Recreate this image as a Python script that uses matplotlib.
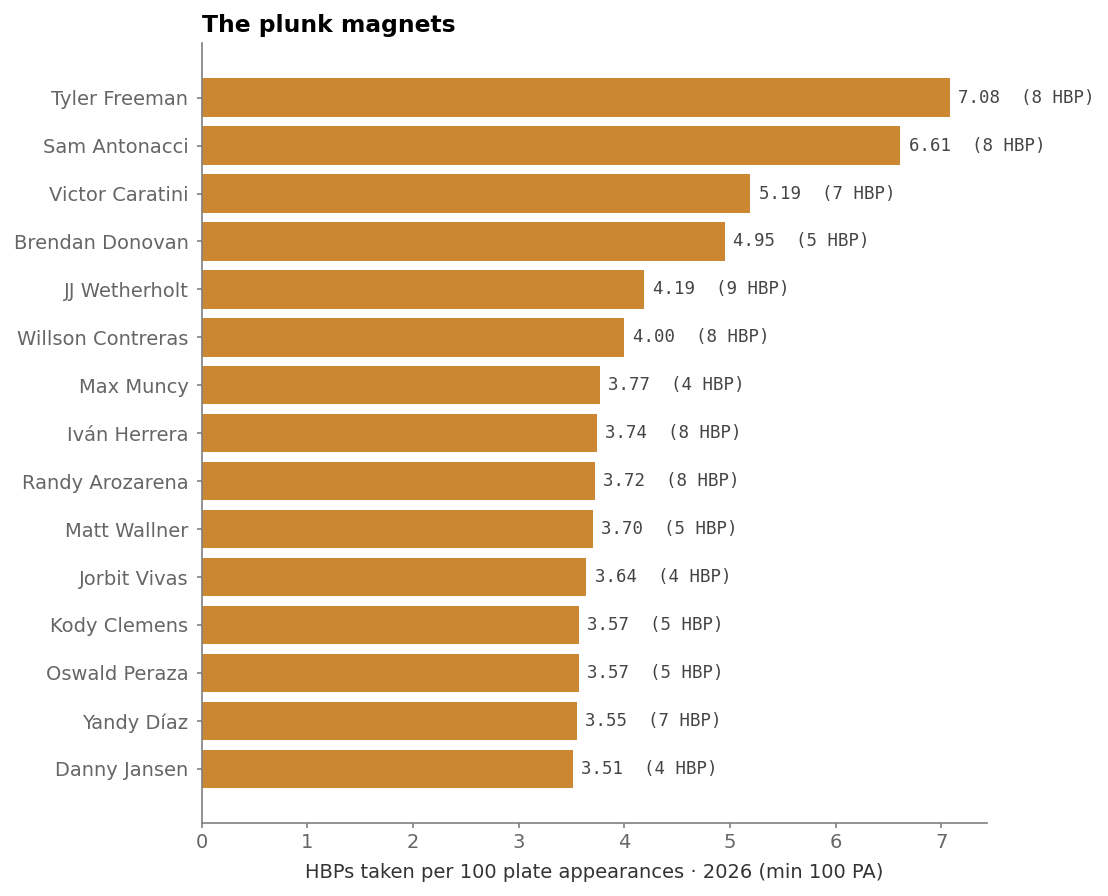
import matplotlib
matplotlib.use("Agg")
import matplotlib.pyplot as plt

# players ranked by HBP per 100 PA
players = ["Tyler Freeman", "Sam Antonacci", "Victor Caratini", "Brendan Donovan",
           "JJ Wetherholt", "Willson Contreras", "Max Muncy", "Iván Herrera",
           "Randy Arozarena", "Matt Wallner", "Jorbit Vivas", "Kody Clemens",
           "Oswald Peraza", "Yandy Díaz", "Danny Jansen"]
rate = [7.08, 6.61, 5.19, 4.95, 4.19, 4.00, 3.77, 3.74, 3.72, 3.70, 3.64,
        3.57, 3.57, 3.55, 3.51]
hbp = [8, 8, 7, 5, 9, 8, 4, 8, 8, 5, 4, 5, 5, 7, 4]

fig, ax = plt.subplots(figsize=(11.08, 8.96), dpi=100)
fig.subplots_adjust(left=0.182, right=0.891, top=0.952, bottom=0.081)

ypos = list(range(len(players)))
ax.barh(ypos, rate, height=0.8, color="#CC8733")
ax.set_yticks(ypos)
ax.set_yticklabels(players)
ax.invert_yaxis()
ax.set_xlim(0, max(rate) * 1.05)

for y, r, h in zip(ypos, rate, hbp):
    ax.text(r + 0.08, y, f"{r:.2f}  ({h} HBP)", va="center", ha="left",
            family="DejaVu Sans Mono", fontsize=12.5, color="#444444")

for s in ["top", "right"]:
    ax.spines[s].set_visible(False)
for s in ["left", "bottom"]:
    ax.spines[s].set_color("#808080")
    ax.spines[s].set_linewidth(1.2)
ax.tick_params(colors="#808080", labelcolor="#666666", labelsize=14, width=1.2)
ax.tick_params(axis="y", pad=6)

ax.set_xlabel("HBPs taken per 100 plate appearances · 2026 (min 100 PA)",
              fontsize=14, color="#333333", labelpad=8)
ax.set_title("The plunk magnets", loc="left", fontsize=16.8, fontweight="bold", pad=8)

fig.savefig("out.png", dpi=100)
